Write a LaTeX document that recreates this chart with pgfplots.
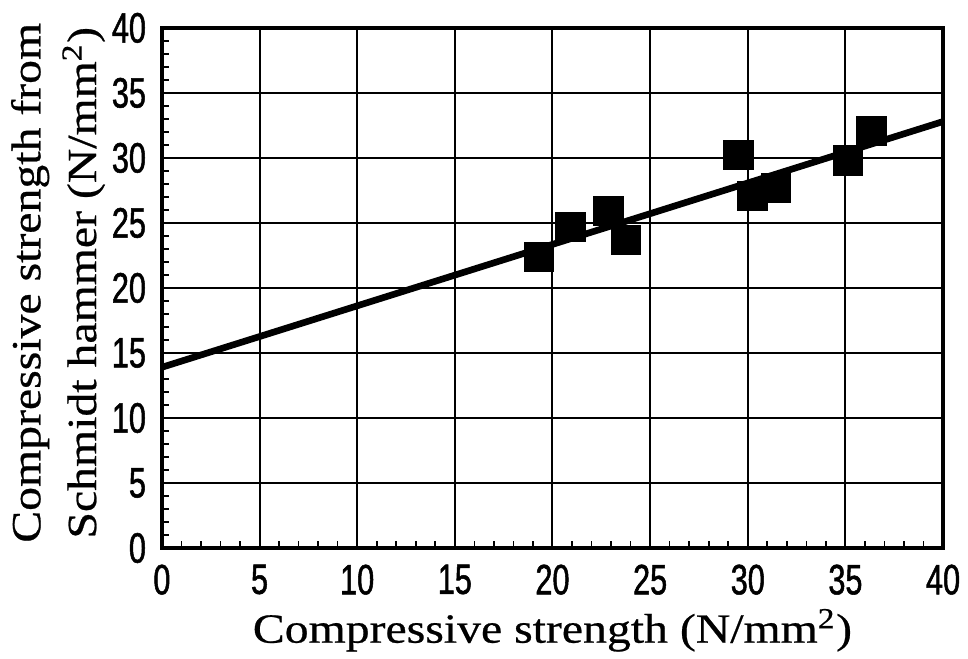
\documentclass[border=0pt]{standalone}
\usepackage{fontspec}
\setmainfont{Liberation Serif}[FakeStretch=1.15, FakeBold=0.6]
\newfontfamily\tickfont{Liberation Sans}[FakeStretch=0.72, FakeBold=1.2]
\usepackage{pgfplots}
\pgfplotsset{compat=1.18}
\begin{document}
\begin{tikzpicture}
\begin{axis}[
  scale only axis,
  width=235.2pt, height=156.6pt,
  xmin=0, xmax=40, ymin=0, ymax=40,
  xtick={0,5,...,40}, ytick={0,5,...,40},
  minor tick num=4,
  grid=major,
  major grid style={black, line width=0.6pt},
  axis line style={black, line width=1pt},
  tick align=inside,
  xtick pos=left, ytick pos=left,
  major tick length=0pt,
  minor tick length=2pt,
  tick style={black, line width=0.5pt},
  /pgf/number format/assume math mode=true,
  tick label style={font=\tickfont\fontsize{12.8}{13}\selectfont, inner sep=1pt},
  xticklabel style={yshift=-3.8pt},
  yticklabel style={xshift=-3.6pt},
  xlabel={Compressive strength (N/mm\textsuperscript{2})},
  xlabel style={font=\fontsize{12.5}{14}\selectfont, inner sep=0pt, anchor=base,
    at={(axis description cs:0.5,0)}, yshift=-28.5pt},
  ylabel={Compressive strength from\\Schmidt hammer (N/mm\textsuperscript{2})},
  ylabel style={font=\fontsize{12.5}{16.8}\selectfont, align=center, anchor=center,
    at={(axis description cs:-0.133,0.51)}},
]
\addplot[black, line width=2pt] coordinates {(0,13.9) (40,32.8)};
\addplot[only marks, mark=square*, mark size=4.35pt, black] coordinates {
  (19.32,22.4) (20.92,24.7) (22.87,25.9) (23.78,23.7)
  (29.53,30.2) (30.24,27.1) (31.43,27.7) (35.14,29.8) (36.33,32.1)
};
\end{axis}
\path ([xshift=-47.7pt,yshift=-33.3pt]current axis.south west) rectangle ([xshift=242.7pt,yshift=165pt]current axis.south west);
\end{tikzpicture}
\end{document}
